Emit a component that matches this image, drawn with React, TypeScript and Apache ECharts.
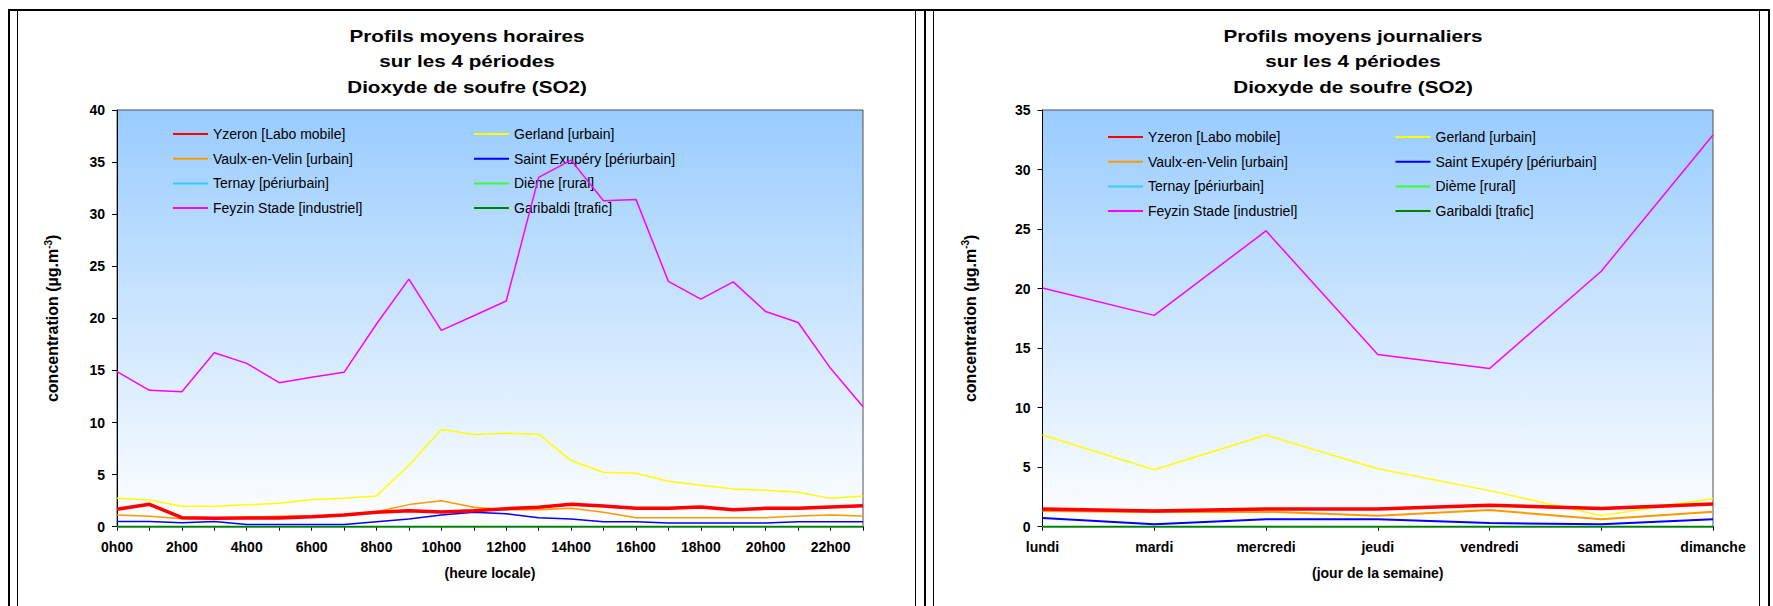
import React, { useEffect, useRef } from 'react';
import * as echarts from 'echarts';

// ---------- data ----------
const hours = ['0h00', '1h00', '2h00', '3h00', '4h00', '5h00', '6h00', '7h00', '8h00', '9h00', '10h00', '11h00',
  '12h00', '13h00', '14h00', '15h00', '16h00', '17h00', '18h00', '19h00', '20h00', '21h00', '22h00', '23h00'];
const days = ['lundi', 'mardi', 'mercredi', 'jeudi', 'vendredi', 'samedi', 'dimanche'];

const stationNames = ['Yzeron [Labo mobile]', 'Gerland [urbain]', 'Vaulx-en-Velin [urbain]', 'Saint Exupéry [périurbain]',
  'Ternay [périurbain]', 'Dième [rural]', 'Feyzin Stade [industriel]', 'Garibaldi [trafic]'];
const stationColors = ['#FF0000', '#FFFF00', '#FF9900', '#0000FF', '#33CCFF', '#33FF33', '#FF00FF', '#008000'];

// hourly profiles (µg/m3)
const hYzeron = [1.67, 2.15, 0.87, 0.8, 0.83, 0.83, 0.96, 1.12, 1.38, 1.54, 1.41, 1.52, 1.73, 1.86, 2.15, 1.99, 1.76, 1.76, 1.89, 1.63, 1.76, 1.76, 1.89, 2.02];
const hGerland = [2.72, 2.56, 1.96, 1.96, 2.1, 2.24, 2.6, 2.72, 2.95, 5.9, 9.33, 8.86, 8.97, 8.88, 6.35, 5.22, 5.13, 4.36, 3.97, 3.62, 3.49, 3.3, 2.72, 2.95];
const hVaulx = [1.12, 1.0, 0.77, 0.77, 0.9, 1.0, 1.06, 1.12, 1.44, 2.12, 2.5, 1.86, 1.63, 1.63, 1.76, 1.38, 0.87, 0.87, 0.87, 0.87, 0.87, 1.03, 1.12, 1.03];
const hStExupery = [0.51, 0.51, 0.38, 0.51, 0.22, 0.22, 0.22, 0.22, 0.48, 0.74, 1.12, 1.38, 1.25, 0.87, 0.74, 0.48, 0.48, 0.35, 0.35, 0.35, 0.35, 0.48, 0.48, 0.48];
const hTernay = [0, 0, 0, 0, 0, 0, 0, 0, 0, 0, 0, 0, 0, 0, 0, 0, 0, 0, 0, 0, 0, 0, 0, 0];
const hDieme = [0, 0, 0, 0, 0, 0, 0, 0, 0, 0, 0, 0, 0, 0, 0, 0, 0, 0, 0, 0, 0, 0, 0, 0];
const hFeyzin = [14.88, 13.09, 12.96, 16.7, 15.68, 13.82, 14.34, 14.82, 19.46, 23.77, 18.85, 20.25, 21.66, 33.53, 35.19, 31.29, 31.42, 23.55, 21.85, 23.5, 20.65, 19.6, 15.2, 11.52];
const hGaribaldi = [0, 0, 0, 0, 0, 0, 0, 0, 0, 0, 0, 0, 0, 0, 0, 0, 0, 0, 0, 0, 0, 0, 0, 0];

// daily profiles (µg/m3)
const dYzeron = [1.49, 1.32, 1.49, 1.49, 1.8, 1.52, 1.91];
const dGerland = [7.7, 4.78, 7.7, 4.86, 3.03, 0.93, 2.36];
const dVaulx = [1.32, 1.24, 1.26, 0.93, 1.4, 0.62, 1.26];
const dStExupery = [0.73, 0.2, 0.62, 0.62, 0.31, 0.2, 0.62];
const dTernay = [0, 0, 0, 0, 0, 0, 0];
const dDieme = [0, 0, 0, 0, 0, 0, 0];
const dFeyzin = [20.05, 17.75, 24.85, 14.46, 13.28, 21.46, 32.9];
const dGaribaldi = [0, 0, 0, 0, 0, 0, 0];

const titleLeft = ['Profils moyens horaires', 'sur les 4 périodes', 'Dioxyde de soufre (SO2)'];
const titleRight = ['Profils moyens journaliers', 'sur les 4 périodes', 'Dioxyde de soufre (SO2)'];
const xNameLeft = '(heure locale)';
const xNameRight = '(jour de la semaine)';

// ---------- helpers ----------
const FONT = '"Liberation Sans", Arial, Helvetica, sans-serif';
const zOrder = [10, 3, 4, 5, 6, 7, 8, 9];

function buildSeries(idx: number, datasets: number[][], widths: number[]) {
  return datasets.map((data, i) => ({
    type: 'line',
    name: stationNames[i],
    xAxisIndex: idx,
    yAxisIndex: idx,
    data,
    symbol: 'none',
    z: zOrder[i],
    lineStyle: { color: stationColors[i], width: widths[i] },
    itemStyle: { color: stationColors[i] },
    emphasis: { disabled: true },
  }));
}

function gradient() {
  return new echarts.graphic.LinearGradient(0, 0, 0, 1, [
    { offset: 0, color: '#99CCFF' },
    { offset: 1, color: '#FFFFFF' },
  ]);
}

function titleTexts(lines: string[], cx: number) {
  return lines.map((t, i) => ({
    type: 'text',
    x: cx,
    y: 36 + i * 25.5,
    scaleX: 1.29,
    silent: true,
    style: {
      text: t,
      fill: '#000',
      fontFamily: FONT,
      fontWeight: 'bold',
      fontSize: 16,
      align: 'center',
      verticalAlign: 'middle',
    },
  }));
}

function bar(x: number, y: number, w: number, h: number) {
  return { type: 'rect', silent: true, shape: { x, y, width: w, height: h }, style: { fill: '#000' } };
}

function yAxisCfg(idx: number, max: number, gap: number, margin: number) {
  return {
    type: 'value',
    gridIndex: idx,
    min: 0,
    max,
    interval: 5,
    name: '{a|concentration (µg.m}{b|-3}{a|)}',
    nameLocation: 'middle',
    nameGap: gap,
    nameTextStyle: {
      rich: {
        a: { fontFamily: FONT, fontWeight: 'bold', fontSize: 16, color: '#000', lineHeight: 19 },
        b: { fontFamily: FONT, fontWeight: 'bold', fontSize: 10, color: '#000', lineHeight: 10, verticalAlign: 'top' },
      },
    },
    axisLine: { show: true, lineStyle: { color: '#000', width: 1 } },
    axisTick: { show: true, length: 5, lineStyle: { color: '#000' } },
    axisLabel: { margin, color: '#000', fontFamily: FONT, fontWeight: 'bold', fontSize: 14 },
    splitLine: { show: false },
  };
}

function xAxisCfg(idx: number, cats: string[], name: string, labelInterval: number) {
  return {
    type: 'category',
    gridIndex: idx,
    data: cats,
    boundaryGap: false,
    name,
    nameLocation: 'middle',
    nameGap: 39,
    nameTextStyle: { fontFamily: FONT, fontWeight: 'bold', fontSize: 14, color: '#000' },
    axisLine: { show: true, onZero: false, lineStyle: { color: '#000', width: 1 } },
    axisTick: { show: true, interval: 0, length: 4, lineStyle: { color: '#000' } },
    axisLabel: { interval: labelInterval, margin: 13, color: '#000', fontFamily: FONT, fontWeight: 'bold', fontSize: 14 },
    splitLine: { show: false },
  };
}

function legendCfg(left: number, top: number, names: string[]) {
  return {
    left,
    top,
    padding: 0,
    orient: 'vertical',
    itemGap: 10.7,
    itemWidth: 35,
    itemHeight: 14,
    selectedMode: false,
    data: names,
    itemStyle: { opacity: 0, borderWidth: 0 },
    textStyle: { fontFamily: FONT, fontSize: 14, color: '#000', lineHeight: 14 },
  };
}

export default function App() {
  const ref = useRef<HTMLDivElement>(null);
  useEffect(() => {
    document.body.style.margin = '0';
    document.body.style.overflow = 'hidden';
    const chart = echarts.init(ref.current!, null, { renderer: 'svg' });
    const col1 = [stationNames[0], stationNames[2], stationNames[4], stationNames[6]];
    const col2 = [stationNames[1], stationNames[3], stationNames[5], stationNames[7]];
    const option = {
      animation: false,
      backgroundColor: '#FFFFFF',
      grid: [
        { left: 117, top: 110, width: 746, height: 416.7, show: true, backgroundColor: gradient(), borderColor: '#505050', borderWidth: 1 },
        { left: 1042.5, top: 110, width: 670.5, height: 416.7, show: true, backgroundColor: gradient(), borderColor: '#505050', borderWidth: 1 },
      ],
      xAxis: [xAxisCfg(0, hours, xNameLeft, 1), xAxisCfg(1, days, xNameRight, 0)],
      yAxis: [yAxisCfg(0, 40, 55, 12), yAxisCfg(1, 35, 63, 12)],
      legend: [
        legendCfg(172, 127, col1),
        legendCfg(473, 127, col2),
        legendCfg(1107, 130, col1),
        legendCfg(1394.5, 130, col2),
      ],
      series: [
        ...buildSeries(0, [hYzeron, hGerland, hVaulx, hStExupery, hTernay, hDieme, hFeyzin, hGaribaldi], [3.5, 1.5, 1.5, 1.5, 1.5, 1.5, 1.5, 2]),
        ...buildSeries(1, [dYzeron, dGerland, dVaulx, dStExupery, dTernay, dDieme, dFeyzin, dGaribaldi], [3.5, 1.5, 2, 2, 1.5, 1.5, 1.5, 2]),
      ],
      graphic: [
        bar(8, 9, 1762, 2),
        bar(8, 9, 2, 597),
        bar(17, 11, 1, 595),
        bar(915, 11, 1, 595),
        bar(924, 9, 2, 597),
        bar(933, 11, 1, 595),
        bar(1759, 11, 1, 595),
        bar(1768, 9, 2, 597),
        ...titleTexts(titleLeft, 467),
        ...titleTexts(titleRight, 1353),
      ],
    };
    chart.setOption(option as any);
    return () => chart.dispose();
  }, []);
  return <div ref={ref} style={{ width: 1773, height: 606, background: '#fff' }} />;
}
